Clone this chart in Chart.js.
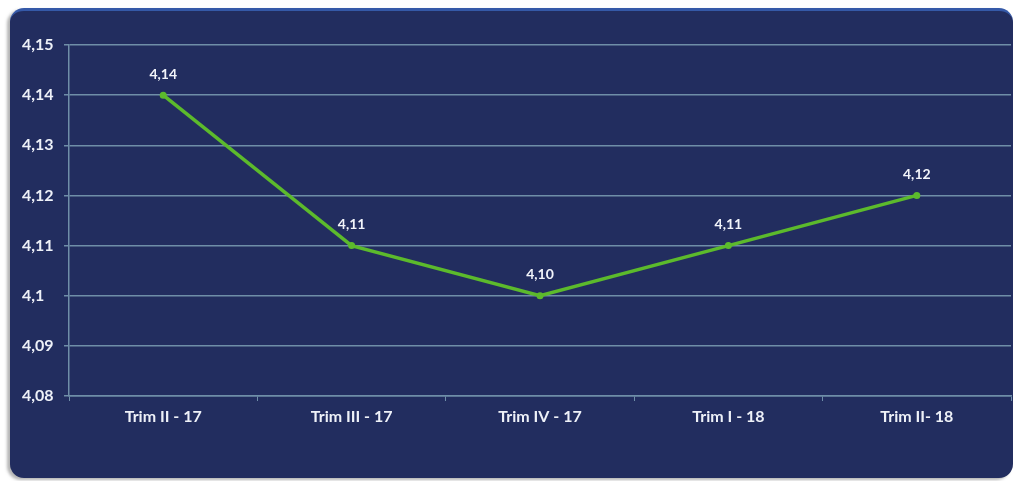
<!DOCTYPE html>
<html>
<head>
<meta charset="utf-8">
<script src="https://cdn.jsdelivr.net/npm/chart.js@4"></script>
<style>
  html, body { margin: 0; padding: 0; background: #fff; }
  #wrap { position: relative; width: 1015px; height: 481px; overflow: hidden; }
  #panel {
    position: absolute; left: 10px; top: 8px; width: 1003px; height: 470px;
    background: #222d5f; border-radius: 14px;
    border-top: 3px solid #3559a8;
    box-sizing: border-box;
    box-shadow: -3px 2px 3px rgba(120,120,120,0.55);
  }
  #c { position: absolute; left: 0; top: 0; }
</style>
</head>
<body>
<div id="wrap">
  <div id="panel"></div>
  <canvas id="c" width="1015" height="481"></canvas>
</div>
<script>
// ─── データ ──────────────────────────────────
const categories  = ['Trim II - 17', 'Trim III - 17', 'Trim IV - 17', 'Trim I - 18', 'Trim II- 18'];
const values      = [4.14, 4.11, 4.10, 4.11, 4.12];
const yTickValues = [4.15, 4.14, 4.13, 4.12, 4.11, 4.10, 4.09, 4.08];
const yTickLabels = ['4,15', '4,14', '4,13', '4,12', '4,11', '4,1', '4,09', '4,08'];

const GRID = '#6f8ea8';
const FONT = 'Lato, "DejaVu Sans", sans-serif';

// ─── データラベル ──────────────────────────────
const pointLabels = {
  id: 'pointLabels',
  afterDatasetsDraw(chart) {
    const ctx = chart.ctx;
    const meta = chart.getDatasetMeta(0);
    ctx.save();
    ctx.fillStyle = '#f2f4fa';
    ctx.font = 'bold 14px ' + FONT;
    ctx.textAlign = 'center';
    ctx.textBaseline = 'middle';
    meta.data.forEach((p, i) => {
      ctx.fillText(values[i].toFixed(2).replace('.', ','), p.x, p.y - 21);
    });
    ctx.restore();
  },
};

new Chart(document.getElementById('c').getContext('2d'), {
  type: 'line',
  data: {
    labels: categories,
    datasets: [{
      data: values,
      borderColor: '#5cba2c', borderWidth: 3.5,
      pointRadius: 3.5, pointBackgroundColor: '#5cba2c', pointBorderWidth: 0,
      tension: 0,
    }],
  },
  options: {
    responsive: false,
    animation: false,
    layout: { padding: { left: 22, top: 45, right: 4, bottom: 0 } },
    plugins: { legend: { display: false }, tooltip: { enabled: false } },
    scales: {
      x: {
        offset: true,
        afterFit: s => { s.height = 85; },
        grid: { drawOnChartArea: false, drawTicks: true, tickLength: 5, color: GRID, offset: true },
        border: { display: true, color: GRID, width: 1.5 },
        ticks: { color: '#eef1f8', font: { family: FONT, size: 16, weight: 'bold' }, padding: 6, maxRotation: 0 },
      },
      y: {
        min: 4.08, max: 4.15,
        afterFit: s => { s.width = 47; },
        afterBuildTicks: s => { s.ticks = yTickValues.map(v => ({ value: v })); },
        grid: { color: GRID, lineWidth: 1.5, tickLength: 5 },
        border: { display: true, color: GRID, width: 1.5 },
        ticks: {
          color: '#eef1f8', font: { family: FONT, size: 16, weight: 'bold' },
          crossAlign: 'far',
          callback: (v, i) => yTickLabels[i],
        },
      },
    },
  },
  plugins: [pointLabels],
});
</script>
</body>
</html>
